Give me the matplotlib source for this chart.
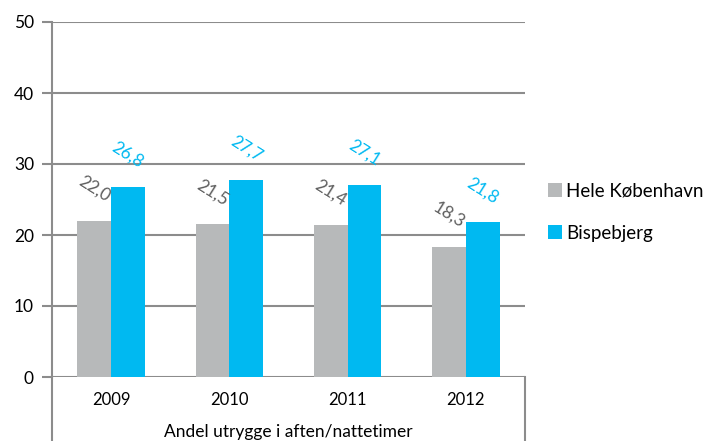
import matplotlib
matplotlib.use("Agg")
import matplotlib.pyplot as plt
import numpy as np
from matplotlib.lines import Line2D

years = ["2009", "2010", "2011", "2012"]
hele_kbh = [22.0, 21.5, 21.4, 18.3]
bispebjerg = [26.8, 27.7, 27.1, 21.8]
hele_labels = ["22,0", "21,5", "21,4", "18,3"]
bisp_labels = ["26,8", "27,7", "27,1", "21,8"]
series_names = ["Hele København", "Bispebjerg"]
yticks = [0, 10, 20, 30, 40, 50]

plt.rcParams['font.family'] = ['Lato', 'DejaVu Sans']

GRAY = "#b7b9ba"
CYAN = "#00b9f1"
GRID = "#8c8c8c"

fig = plt.figure(figsize=(7.03, 4.41), dpi=100)
ax = fig.add_axes([52/703, 1-377/441, (525-52)/703, (377-22)/441])

x = np.arange(len(years))
w = 0.285
ax.bar(x - w/2, hele_kbh, w, color=GRAY, label=series_names[0], zorder=3)
ax.bar(x + w/2, bispebjerg, w, color=CYAN, label=series_names[1], zorder=3)

ax.set_xlim(-0.5, 3.5)
ax.set_ylim(0, 50)
ax.set_yticks(yticks)
ax.set_yticklabels([str(t) for t in yticks], fontsize=12.5)
ax.set_xticks(x)
ax.set_xticklabels(years, fontsize=12)
ax.tick_params(axis='x', length=0, pad=11)
ax.tick_params(axis='y', length=7, width=1.5, color=GRID, pad=6)
for t in yticks:
    ax.axhline(t, color=GRID, lw=1.5, zorder=1)
for s in ['top', 'right', 'bottom']:
    ax.spines[s].set_visible(False)
ax.spines['left'].set_color(GRID)
ax.spines['left'].set_linewidth(1.5)

# box below axis
for xf in [0, 1]:
    ax.add_line(Line2D([xf, xf], [0, -0.2], transform=ax.transAxes,
                       color=GRID, lw=1.5, clip_on=False))

for i in range(len(years)):
    ax.annotate(hele_labels[i], (x[i] - w/2, hele_kbh[i]), xytext=(0, 23),
                textcoords='offset points', ha='center', va='center',
                rotation=-32, fontsize=12.5, color="#5f5f5f")
    ax.annotate(bisp_labels[i], (x[i] + w/2, bispebjerg[i]), xytext=(0, 23),
                textcoords='offset points', ha='center', va='center',
                rotation=-32, fontsize=12.5, color=CYAN)

fig.text(288/703, 1-432/441, "Andel utrygge i aften/nattetimer", ha='center',
         va='center', fontsize=12.5)

ax.legend(loc='upper left', bbox_to_anchor=(540/703, 1-175/441),
          bbox_transform=fig.transFigure, frameon=False, fontsize=13.5,
          handlelength=0.75, handleheight=0.75, handletextpad=0.25,
          labelspacing=1.35, borderaxespad=0)

fig.savefig("out.png", dpi=100)
